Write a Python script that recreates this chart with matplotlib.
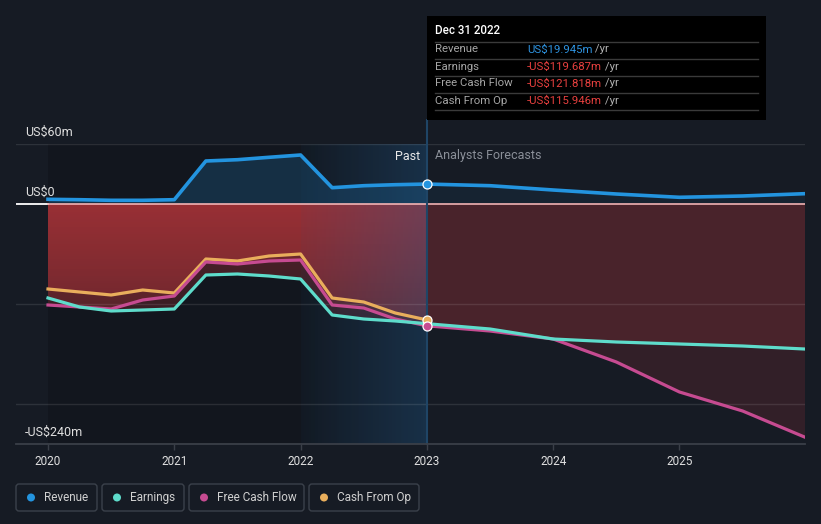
import matplotlib
matplotlib.use("Agg")
import matplotlib.pyplot as plt
import numpy as np
from matplotlib.patches import FancyBboxPatch, Rectangle, Circle

plt.rcParams['font.family'] = ['Roboto', 'DejaVu Sans']

# ---------------- data (US$ millions) ----------------
past_x = [2020.0, 2020.25, 2020.5, 2020.75, 2021.0, 2021.25, 2021.5, 2021.75,
          2022.0, 2022.25, 2022.5, 2022.75, 2023.0]
fc_x = [2023.0, 2023.5, 2024.0, 2024.5, 2025.0, 2025.5, 2025.99]

revenue_past = [4.7, 4.3, 3.7, 3.7, 4.3, 43, 44.3, 46.7, 49, 16.3, 18.3, 19.3, 19.945]
revenue_fc = [19.945, 18.3, 14, 10, 6.7, 8, 10.3]
earnings_past = [-94, -103, -107, -106, -105, -71, -70, -72, -75, -111, -115, -117, -119.687]
earnings_fc = [-119.687, -125, -135, -138, -140, -142, -145]
fcf_past = [-101, -103, -105, -96, -92, -58, -60, -57, -56, -101, -104, -115, -121.818]
fcf_fc = [-121.818, -127, -135, -158, -188, -207, -233]
cfo_past = [-85, -88, -91, -86, -89, -55, -57, -52, -50, -94, -98, -109, -115.946]

years = [2020, 2021, 2022, 2023, 2024, 2025]
year_labels = ['2020', '2021', '2022', '2023', '2024', '2025']
y_labels = {60: 'US$60m', 0: 'US$0', -240: '-US$240m'}
grid_vals = [60, -100, -200]

tooltip_title = 'Dec 31 2022'
tooltip_rows = [('Revenue', 'US$19.945m', '#2e93e0'),
                ('Earnings', '-US$119.687m', '#e8403f'),
                ('Free Cash Flow', '-US$121.818m', '#e8403f'),
                ('Cash From Op', '-US$115.946m', '#e8403f')]
legend_names = ['Revenue', 'Earnings', 'Free Cash Flow', 'Cash From Op']

# ---------------- style ----------------
BG = '#161b24'
C_REV = '#2394df'
C_EARN = '#5edccb'
C_FCF = '#c64b91'
C_CFO = '#e9ae5c'
RED = np.array([190, 55, 60]) / 255.0

W, H = 821, 524
fig = plt.figure(figsize=(W / 100, H / 100), dpi=100)
fig.patch.set_facecolor(BG)

XMIN, XMAX = 2019.7466, 2025.994
YMIN, YMAX = -240, 60
ax = fig.add_axes([16 / W, 80 / H, 789 / W, 300 / H])
ax.set_facecolor('none')


def reset_lims():
    ax.set_xlim(XMIN, XMAX)
    ax.set_ylim(YMIN, YMAX)


reset_lims()

# past darkening (constant until 2022, fading out across 2022-2023)
nx = 380
xs = np.linspace(2020, 2023, nx)
dark = np.zeros((1, nx, 4))
dark[..., 3] = np.where(xs <= 2022, 0.16, 0.16 * (2023 - xs))
ax.imshow(dark, extent=[2020, 2023, YMIN, YMAX], origin='lower', aspect='auto',
          zorder=0.5, interpolation='nearest')

# revenue fill
ax.fill_between(past_x, 0, revenue_past, color=C_REV, alpha=0.2, lw=0, zorder=1)
ax.fill_between(fc_x, 0, revenue_fc, color=C_REV, alpha=0.07, lw=0, zorder=1)


def grad_fill(x, y, x0, x1, a_top, a_bot, z):
    poly = ax.fill_between(x, 0, y, facecolor='none', edgecolor='none')
    n = 240
    img = np.zeros((n, 1, 4))
    img[..., :3] = RED
    img[..., 3] = np.linspace(a_bot, a_top, n)[:, None]
    im = ax.imshow(img, extent=[x0, x1, YMIN, 0], origin='lower', aspect='auto',
                   zorder=z, interpolation='nearest')
    im.set_clip_path(poly.get_paths()[0], transform=ax.transData)


for s in (earnings_past, fcf_past, cfo_past):
    grad_fill(past_x, s, 2020, 2023, 0.40, 0.02, 1.5)
for s in (earnings_fc, fcf_fc):
    ax.fill_between(fc_x, 0, s, color=RED, alpha=0.17, lw=0, zorder=1.5)
reset_lims()

# highlight band 2022-2023 (blue tint growing to the right)
nb = 127
t = np.linspace(0, 1, nb)
band = np.zeros((1, nb, 4))
band[..., 0] = 30 / 255
band[..., 1] = 95 / 255
band[..., 2] = 150 / 255
band[..., 3] = 0.05 + 0.27 * t
ax.imshow(band, extent=[2022, 2023, YMIN, YMAX], origin='lower', aspect='auto',
          zorder=2, interpolation='nearest')
reset_lims()

# gridlines
for g in grid_vals:
    ax.plot([XMIN, XMAX], [g, g], color='white', alpha=0.1, lw=1, zorder=2.5)
ax.plot([XMIN, 2020], [0, 0], color='white', lw=1.3, zorder=2.6)
ax.plot([2020, XMAX], [0, 0], color='#f3b3b3', lw=1.2, zorder=2.6)

# cursor line
ax.plot([2023, 2023], [YMIN, 84], color='#1f4566', lw=1.5, zorder=2.7, clip_on=False)

# lines
lw = 2.3
ax.plot(past_x, cfo_past, color=C_CFO, lw=lw, zorder=3, solid_joinstyle='round')
ax.plot(past_x, fcf_past, color=C_FCF, lw=lw, zorder=3.1, solid_joinstyle='round')
ax.plot(fc_x, fcf_fc, color=C_FCF, lw=lw, zorder=3.1, solid_joinstyle='round')
ax.plot(past_x, earnings_past, color=C_EARN, lw=lw, zorder=3.2, solid_joinstyle='round')
ax.plot(fc_x, earnings_fc, color=C_EARN, lw=lw, zorder=3.2, solid_joinstyle='round')
ax.plot(past_x, revenue_past, color=C_REV, lw=2.6, zorder=3.3, solid_joinstyle='round')
ax.plot(fc_x, revenue_fc, color=C_REV, lw=2.6, zorder=3.3, solid_joinstyle='round')

# markers at cursor
for val, c in ((revenue_past[-1], C_REV), (cfo_past[-1], C_CFO), (fcf_past[-1], C_FCF)):
    ax.plot([past_x[-1]], [val], marker='o', ms=6.5, mfc=c, mec='white', mew=0.9, zorder=5)

# axes styling
for sp in ('top', 'left', 'right'):
    ax.spines[sp].set_visible(False)
ax.spines['bottom'].set_color('#3a3f48')
ax.spines['bottom'].set_linewidth(1.3)
ax.spines['bottom'].set_zorder(4)
ax.set_yticks([])
ax.set_xticks(years)
ax.set_xticklabels(year_labels)
ax.tick_params(axis='x', direction='out', length=4, width=1, color='#3a3f48',
               labelcolor='#e0e0e0', labelsize=8.5, pad=4)

# y labels
xl = 2020 + (25 - 48) / 126.3
for v, lab in y_labels.items():
    ax.text(xl, v + 12, lab, color='#e0e0e0', fontsize=9, va='center', ha='left', zorder=6)

ax.text(2023 - 7 / 126.3, 48, 'Past', color='#e8e8e8', fontsize=9, ha='right', va='center', zorder=6)
ax.text(2023 + 8 / 126.3, 48, 'Analysts Forecasts', color='#8a8f98', fontsize=9, ha='left',
        va='center', zorder=6)

# ---------------- overlay (pixel coordinates) ----------------
ov = fig.add_axes([0, 0, 1, 1], zorder=10)
ov.set_xlim(0, W)
ov.set_ylim(H, 0)
ov.axis('off')
ov.patch.set_alpha(0)

ov.add_patch(Rectangle((427, 16), 339, 104, facecolor='black', edgecolor='none'))
ov.text(435, 31, tooltip_title, color='white', fontsize=8.3, fontweight='medium', va='center')
for ysep in (41.5, 58.5, 75.5, 92.5, 110):
    ov.plot([435, 758], [ysep, ysep], color='#3a3a3a', lw=1)
for i, (lab, val, col) in enumerate(tooltip_rows):
    yy = 49.5 + 17 * i
    ov.text(435, yy, lab, color='#a6a6a6', fontsize=8.2, va='center')
    tv = ov.text(527, yy, val, color=col, fontsize=8.2, va='center')
    ov.annotate(' /yr', xy=(1, 0.5), xycoords=tv, color='#b0b0b0', fontsize=8.2,
                va='center', ha='left')

# legend
boxes = [(16, 81), (102, 82), (189, 115), (309, 110)]
cols = [C_REV, C_EARN, C_FCF, C_CFO]
for (bx, bw), name, c in zip(boxes, legend_names, cols):
    ov.add_patch(FancyBboxPatch((bx, 484), bw, 27, boxstyle='round,pad=0,rounding_size=3',
                                facecolor='none', edgecolor='#3b414b', lw=1))
    ov.add_patch(Circle((bx + 15, 497.5), 4, facecolor=c, edgecolor='none'))
    ov.text(bx + 28, 497.5, name, color='#d0d0d0', fontsize=8.5, va='center', ha='left')

fig.savefig('out.png', dpi=100, facecolor=BG)
